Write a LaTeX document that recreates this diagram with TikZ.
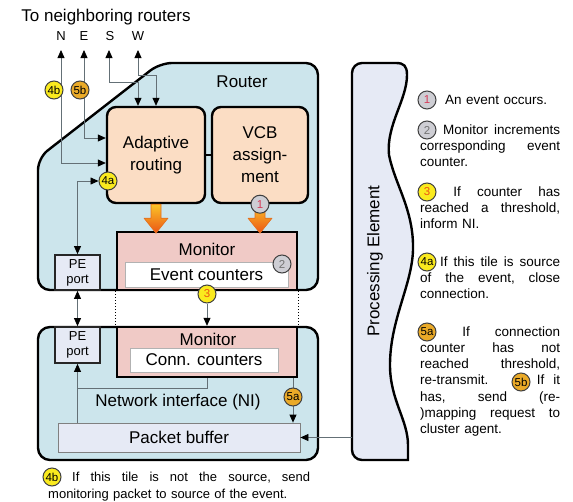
\documentclass[tikz,border=0pt]{standalone}
\usepackage{fontspec}
\setmainfont{Liberation Sans}
\usetikzlibrary{arrows.meta}

\definecolor{tileblue}{RGB}{204,229,236}
\definecolor{unitpeach}{RGB}{251,221,196}
\definecolor{monpink}{RGB}{240,202,198}
\definecolor{pelilac}{RGB}{230,234,245}
\definecolor{wiregray}{RGB}{100,112,118}
\definecolor{tagyellow}{RGB}{250,234,30}
\definecolor{tagorange}{RGB}{234,170,40}
\definecolor{taggray}{RGB}{206,206,212}
\definecolor{eventred}{RGB}{215,60,90}
\definecolor{flowtop}{RGB}{250,196,40}
\definecolor{flowtip}{RGB}{236,84,20}
\definecolor{flowedge}{RGB}{226,110,30}

\tikzset{
  heavy/.style={draw=black, line width=2.4pt},
  unit/.style={heavy, rounded corners=9pt, fill=unitpeach, minimum width=98pt, minimum height=96pt, align=center, font=\fontsize{17}{22}\selectfont},
  monitor/.style={heavy, fill=monpink, minimum width=180pt},
  counters/.style={draw=gray!60, line width=0.8pt, fill=white, font=\fontsize{17}{20}\selectfont, inner sep=0pt},
  port/.style={draw=black!85, line width=1.8pt, fill=pelilac, minimum width=45pt, align=center, font=\fontsize{13}{15}\selectfont, inner sep=0pt},
  link/.style={draw=wiregray, line width=0.8pt, >={Triangle[length=8pt,width=7pt,color=black]}},
  tag/.style={circle, draw=black!75, line width=1pt, minimum size=18pt, inner sep=0pt, font=\fontsize{11.5}{11.5}\selectfont},
  tagY/.style={tag, fill=tagyellow},
  tagO/.style={tag, fill=tagorange},
  tagG/.style={tag, fill=taggray},
  big/.style={font=\fontsize{17}{20}\selectfont},
  note/.style={anchor=base west, inner sep=0pt, text width=140pt, align=left, font=\fontsize{13.5}{16.3}\selectfont},
  fat/.style={draw=flowedge, line width=0.6pt, top color=flowtop, bottom color=flowtip, line join=round},
}

% wide flow arrow pointing down from a box
\newcommand{\fatarrow}[1]{\path[fat] (#1) ++(-5,0) -- ++(10,0) -- ++(0,14) -- ++(7,0) -- ++(-12,15) -- ++(-12,-15) -- ++(7,0) -- cycle;}
% room for a tag at the start of a line
\newcommand{\tagslot}{\rule{17pt}{0pt}}
% one justified legend line, gaps given by \hfill
\newcommand{\fullline}[2][140pt]{\leavevmode\hbox to #1{#2}}

\begin{document}
\begin{tikzpicture}[x=1pt, y=-1pt, font=\fontsize{13}{16}\selectfont]
    \useasboundingbox (0,0) rectangle (573,501);

    % router tile
    \draw[heavy, fill=tileblue, rounded corners=12pt] (160,63) -- (318,63) -- (318,290) -- (38,290) -- (38,158) -- cycle;
    \node[big] (router) at (242,82) {Router};

    % network interface
    \node[heavy, fill=tileblue, rounded corners=12pt, minimum width=280pt, minimum height=133pt] (ni) at (178,393.5) {};
    \node[big] (nilabel) at (178,402) {Network interface (NI)};

    % processing element, wavy right side
    \draw[heavy, fill=pelilac] (352,300) [rounded corners=10pt] -- (352,63) [sharp corners] -- (396,63)
        .. controls (404,63) and (407,66) .. (407,75)
        .. controls (407,100) and (386,125) .. (389,155)
        .. controls (395,185) and (414,210) .. (413,250)
        .. controls (412,285) and (390,320) .. (390,365)
        .. controls (390,400) and (408,420) .. (408,445)
        -- (408,460) [rounded corners=10pt] -- (352,460) -- cycle;
    \node[big, rotate=90] (pelabel) at (375,261) {Processing Element};

    % router units
    \node[unit] (adapt) at (156,155) {Adaptive\\routing};
    \node[unit, minimum width=96pt] (vcb) at (260,155) {VCB\\assign-\\ment};
    \draw[line width=1.6pt] (adapt) -- (vcb);

    % monitors
    \node[monitor, minimum height=58pt] (monev) at (207,261) {};
    \node[big] (monevlabel) at (207,249) {Monitor};
    \node[counters, minimum width=163pt, minimum height=25pt] (evcnt) at (206.5,274.5) {Event counters};
    \node[monitor, minimum height=50pt] (moncn) at (207,352) {};
    \node[big] (moncnlabel) at (208,339) {Monitor};
    \node[counters, minimum width=148pt, minimum height=24pt] (cncnt) at (204,360) {Conn. counters};

    % PE ports
    \node[port, minimum height=35pt] (peA) at (77.5,272.5) {PE\\port};
    \node[port, minimum height=36pt] (peB) at (77.5,345) {PE\\port};

    % packet buffer
    \node[draw=gray, line width=0.8pt, fill=pelilac, minimum width=242pt, minimum height=29pt, big] (pbuf) at (179,437.5) {Packet buffer};

    % events into the monitor
    \fatarrow{adapt.south}
    \fatarrow{vcb.south}

    % neighbours
    \node[big] (title) at (106,17) {To neighboring routers};
    \node (lblN) at (61,36) {N};
    \node (lblE) at (84,36) {E};
    \node (lblS) at (110,36) {S};
    \node (lblW) at (138,36) {W};
    \coordinate (toN) at (61,50);
    \coordinate (toE) at (84,50);
    \coordinate (toS) at (109,50);
    \coordinate (toW) at (138,50);

    \draw[link,<->] (toN) |- ([yshift=-8pt]adapt.west);
    \draw[link,<->] (toE) |- ([yshift=17pt]adapt.west);
    \draw[link,<->] (toS) -- ++(0,32) -| ([xshift=-18pt]adapt.north);
    \draw[link,<->] (toW) -- ++(0,25) -| (adapt.north);

    \node[tagY] (tag4b) at (54,90) {4b};
    \node[tagO] (tag5b) at (80,90) {5b};

    % PE port links
    \node[tagY] (tag4a) at (108,181) {4a};
    \draw[link,<->] (peA.north) |- (tag4a.west);
    \draw[link,<->] (peA.south) -- (peB.north);

    \draw[line width=1pt, dotted] (monev.south west) -- (moncn.north west);
    \draw[line width=1pt, dotted] (monev.south east) -- (moncn.north east);

    \node[tagY, text=flowtip] (tag3) at (207,294) {3};
    \draw[link,->] (tag3) -- (moncn.north);
    \node[tagG, text=black!55] (tag2) at (282,264) {2};
    \node[tagG, text=eventred] (tag1) at (vcb.south) {1};

    % inside the NI
    \coordinate (joint) at (77.5,388);
    \draw[link] (moncn.south) |- (joint);
    \draw[link,->] (pbuf.north -| peB) -- (peB.south);
    \coordinate (at5a) at (293,397);
    \draw[link,->] (moncn.south -| at5a) -- (pbuf.north -| at5a);
    \node[tagO] (tag5a) at (at5a) {5a};
    \coordinate (peIn) at (352,437.5);
    \draw[link,->] (peIn) -- (pbuf.east);

    % legend
    \node[tagG, text=eventred] (key1) at (427,100) {1};
    \node[note] (txt1) at (420,104) {\tagslot\hspace{8pt}An event occurs.};
    \node[tagG, text=black!55] (key2) at (427,130) {2};
    \node[note] (txt2) at (420,134) {\fullline{\tagslot\hfill Monitor\hfill increments}\\\fullline{corresponding\hfill event}\\counter.};
    \node[tagY, text=flowtip] (key3) at (427,192) {3};
    \node[note] (txt3) at (420,196) {\fullline{\tagslot\hfill If\hfill counter\hfill has}\\\fullline{reached\hfill a\hfill threshold,}\\inform NI.};
    \node[tagY] (key4a) at (427,262) {4a};
    \node[note] (txt4a) at (420,266) {\hspace*{20pt}\fullline[120pt]{If\hfill this\hfill tile\hfill is\hfill source}\\\fullline{of\hfill the\hfill event,\hfill close}\\connection.};
    \node[tagO] (key5a) at (427,332) {5a};
    \node[note] (txt5a) at (420,336) {\fullline{\tagslot\hfill If\hfill connection}\\\fullline{counter\hfill has\hfill not}\\\fullline{reached\hfill threshold,}\\\fullline{re-transmit.\hfill If\hspace{9pt}it}\\\fullline{has,\hfill send\hfill (re-}\\\fullline{)mapping\hfill request\hfill to}\\cluster agent.};
    \node[tagO] (key5b) at (521,382) {5b};

    \node[tagY] (key4b) at (52,477) {4b};
    \node[note, text width=262pt, font=\fontsize{13}{17}\selectfont] (txt4b) at (48,481) {\hspace*{24pt}\fullline[238pt]{If\hfill this\hfill tile\hfill is\hfill not\hfill the\hfill source,\hfill send}\\monitoring packet to source of the event.};

\end{tikzpicture}
\end{document}
